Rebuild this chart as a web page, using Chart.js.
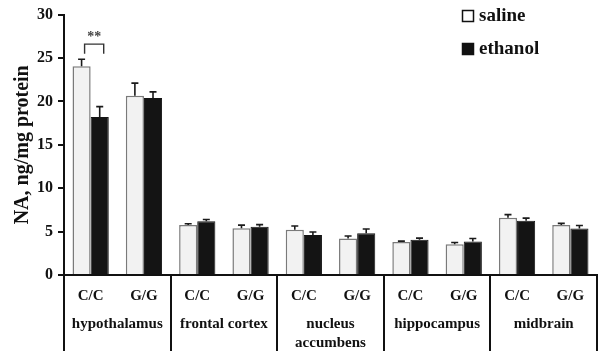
<!DOCTYPE html>
<html><head><meta charset="utf-8">
<script src="https://cdn.jsdelivr.net/npm/chart.js@4/dist/chart.umd.min.js"></script>
<style>html,body{margin:0;padding:0;background:#fff}#wrap{width:609px;height:357px}</style>
</head><body><div id="wrap"><canvas id="c" width="609" height="357"></canvas></div>
<script>
const genotypes = ['C/C','G/G','C/C','G/G','C/C','G/G','C/C','G/G','C/C','G/G'];
const regions = [['hypothalamus'],['frontal cortex'],['nucleus','accumbens'],['hippocampus'],['midbrain']];
const seriesNames = ['saline','ethanol'];
const saline = [24.05, 20.65, 5.75, 5.4, 5.2, 4.2, 3.8, 3.55, 6.6, 5.75];
const salineErr = [0.8, 1.45, 0.15, 0.35, 0.45, 0.3, 0.1, 0.2, 0.35, 0.2];
const ethanol = [18.2, 20.4, 6.2, 5.55, 4.6, 4.8, 4.05, 3.85, 6.25, 5.35];
const ethanolErr = [1.2, 0.7, 0.2, 0.25, 0.35, 0.5, 0.2, 0.35, 0.3, 0.35];
const yTicks = [0, 5, 10, 15, 20, 25, 30];
const sigPair = {index: 0, label: '**', bracketLow: 25.5, bracketHigh: 26.6};

const FONT = "'Liberation Serif', 'Times New Roman', serif";
const errs = [salineErr, ethanolErr];

const extras = {
  id: 'extras',
  afterDatasetsDraw(chart) {
    const ctx = chart.ctx, x = chart.scales.x, y = chart.scales.y;
    const area = chart.chartArea;
    ctx.save();
    // error bars
    chart.data.datasets.forEach((ds, di) => {
      const meta = chart.getDatasetMeta(di);
      meta.data.forEach((bar, i) => {
        const top = y.getPixelForValue(ds.data[i] + errs[di][i]);
        ctx.strokeStyle = '#1a1a1a';
        ctx.lineWidth = 1.6;
        ctx.beginPath();
        ctx.moveTo(bar.x, bar.y);
        ctx.lineTo(bar.x, top);
        ctx.moveTo(bar.x - 3.5, top);
        ctx.lineTo(bar.x + 3.5, top);
        ctx.stroke();
      });
    });
    // significance bracket
    const b0 = chart.getDatasetMeta(0).data[sigPair.index];
    const b1 = chart.getDatasetMeta(1).data[sigPair.index];
    const yh = y.getPixelForValue(sigPair.bracketHigh), yl = y.getPixelForValue(sigPair.bracketLow);
    const xa = b0.x + 3, xb = b1.x + 4;
    ctx.strokeStyle = '#333'; ctx.lineWidth = 1.4;
    ctx.beginPath();
    ctx.moveTo(xa, yl); ctx.lineTo(xa, yh); ctx.lineTo(xb, yh); ctx.lineTo(xb, yl);
    ctx.stroke();
    ctx.fillStyle = '#444';
    ctx.font = 'bold 14px ' + FONT;
    ctx.textAlign = 'center'; ctx.textBaseline = 'middle';
    ctx.fillText(sigPair.label, (xa + xb) / 2, yh - 7);

    // x labels & dividers
    ctx.fillStyle = '#111';
    ctx.font = 'bold 15px ' + FONT;
    genotypes.forEach((g, i) => {
      ctx.fillText(g, x.getPixelForValue(i), area.bottom + 21);
    });
    regions.forEach((lines, r) => {
      const cx = (x.getPixelForValue(2 * r) + x.getPixelForValue(2 * r + 1)) / 2;
      lines.forEach((t, k) => ctx.fillText(t, cx, area.bottom + 49 + k * 19));
    });
    ctx.strokeStyle = '#111'; ctx.lineWidth = 2;
    const step = x.getPixelForValue(1) - x.getPixelForValue(0);
    for (let r = 0; r <= regions.length; r++) {
      const xv = r === regions.length ? area.right : x.getPixelForValue(2 * r) - step / 2;
      ctx.beginPath();
      ctx.moveTo(Math.round(xv), area.bottom);
      ctx.lineTo(Math.round(xv), area.bottom + 76);
      ctx.stroke();
    }

    // legend
    ctx.font = 'bold 19px ' + FONT;
    ctx.textAlign = 'left';
    chart.data.datasets.forEach((ds, di) => {
      const lx = 462, ly = 10 + di * 33;
      ctx.fillStyle = di === 0 ? '#fff' : '#111';
      ctx.fillRect(lx, ly, 12, 12);
      ctx.strokeStyle = '#111'; ctx.lineWidth = 1.5;
      ctx.strokeRect(lx + 0.5, ly + 0.5, 11, 11);
      ctx.fillStyle = '#111';
      ctx.fillText(ds.label, 479, ly + 6);
    });
    ctx.restore();
  }
};

new Chart(document.getElementById('c'), {
  type: 'bar',
  data: {
    labels: genotypes,
    datasets: [
      {label: seriesNames[0], data: saline, backgroundColor: '#f2f2f2', borderColor: '#7a7a7a', borderWidth: 1.5},
      {label: seriesNames[1], data: ethanol, backgroundColor: '#141414', borderColor: '#141414', borderWidth: 1}
    ]
  },
  options: {
    responsive: false,
    animation: false,
    devicePixelRatio: 1,
    layout: {padding: {top: 6, right: 12, bottom: 82, left: 0}},
    datasets: {bar: {categoryPercentage: 0.68, barPercentage: 1.0}},
    plugins: {legend: {display: false}, tooltip: {enabled: false}},
    scales: {
      x: {
        grid: {display: false},
        ticks: {display: false},
        border: {color: '#111', width: 2},
        afterFit(s) { s.height = 0; }
      },
      y: {
        min: 0, max: 30,
        afterBuildTicks(s) { s.ticks = yTicks.map(v => ({value: v})); },
        ticks: {color: '#111', font: {family: FONT, size: 16, weight: 'bold'}, padding: 5},
        grid: {drawOnChartArea: false, tickLength: 6, color: '#111', lineWidth: 2},
        border: {color: '#111', width: 2},
        title: {display: true, text: 'NA, ng/mg protein', color: '#111', font: {family: FONT, size: 20, weight: 'bold'}, padding: {top: 11, bottom: 0}},
        afterFit(s) { s.width = 64; }
      }
    }
  },
  plugins: [extras]
});
</script></body></html>
